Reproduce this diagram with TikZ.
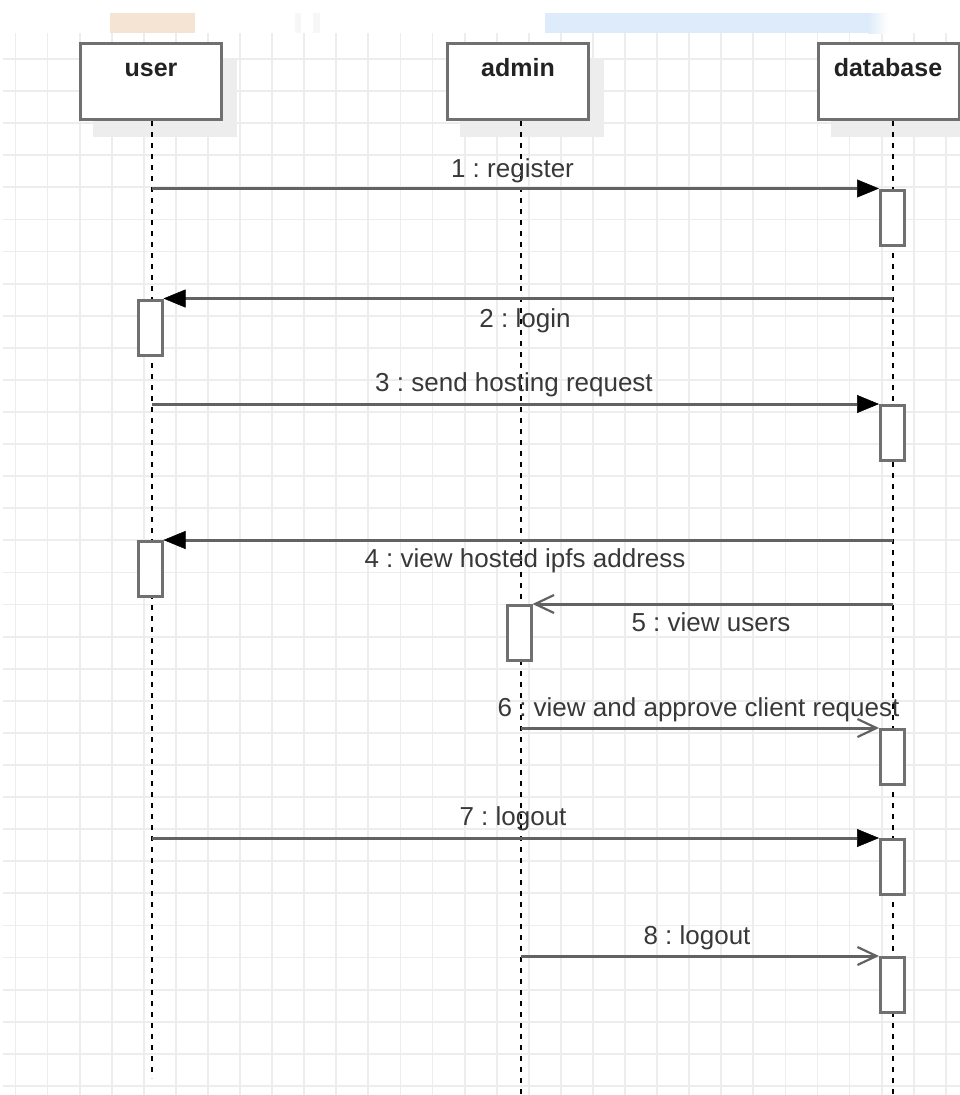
\documentclass[tikz,border=0pt]{standalone}
\usepackage{fontspec}
\setmainfont{Liberation Sans}
\usetikzlibrary{arrows.meta}
\definecolor{gridc}{HTML}{EDEDED}
\definecolor{boxc}{HTML}{707070}
\definecolor{linec}{HTML}{626262}
\definecolor{shadowc}{HTML}{EDEDED}
\definecolor{txtc}{HTML}{383838}
\definecolor{headc}{HTML}{222222}
\definecolor{bluec}{HTML}{DDEBFA}
\definecolor{tanc}{HTML}{F5E4D4}
\definecolor{faintc}{HTML}{F7F7F7}
\frenchspacing
\begin{document}
\begin{tikzpicture}[x=1pt,y=-1pt,
  gridline/.style={draw=gridc, line width=1.8pt},
  head/.style={draw=boxc, line width=3pt, fill=white, minimum width=141pt, minimum height=76pt, inner sep=0pt},
  shadowbox/.style={fill=shadowc, minimum width=144pt, minimum height=79pt, inner sep=0pt},
  headtxt/.style={font=\fontsize{25}{30}\selectfont\bfseries, text=headc, anchor=base, inner sep=0pt},
  act/.style={draw=boxc, line width=3pt, fill=white, minimum width=24pt, minimum height=55pt, inner sep=0pt},
  life/.style={line width=2pt, dash pattern=on 5pt off 6pt, black},
  msglbl/.style={font=\fontsize{26}{30}\selectfont, text=txtc, anchor=base, inner sep=0pt},
  sync/.style={draw=linec, line width=3pt, -{Triangle[length=22pt,width=18pt,line width=0.5pt,color=black,fill=black]}},
  async/.style={draw=linec, line width=3pt, -{Straight Barb[length=19pt,width=18pt,line width=2.2pt]}},
]
\useasboundingbox (0,0) rectangle (960,1095);
\clip (0,0) rectangle (960,1095);
% grid
\foreach \i in {0,...,29} \draw[gridline] (15.5+32.08*\i,33) -- (15.5+32.08*\i,1095);
\foreach \j in {0,...,32} \draw[gridline] (3,59+32.09*\j) -- (960,59+32.09*\j);
% top strip fragments
\fill[tanc] (110,13) rectangle (195,33);
\fill[faintc] (295,13) rectangle (301,33);
\fill[faintc] (313,13) rectangle (320,33);
\fill[bluec] (545,13) rectangle (868,33);
\shade[left color=bluec, right color=white] (868,13) rectangle (888,33);
% header shadows
\node[shadowbox] (us) at (165,97) {};
\node[shadowbox] (as) at (532,97) {};
\node[shadowbox] (ds) at (903,97) {};
% headers
\node[head] (user) at (151,81.5) {};
\node[head] (admin) at (518,81.5) {};
\node[head] (database) at (889,81.5) {};
\node[headtxt] (usert) at (151,76.5) {user};
\node[headtxt] (admint) at (518,76.5) {admin};
\node[headtxt] (databaset) at (888,76.5) {database};
% lifelines
\coordinate (ul) at (152,121);
\coordinate (al) at (521,121);
\coordinate (dl) at (893,121);
\coordinate (ub) at (152,1078);
\coordinate (ab) at (521,1095);
\coordinate (dbot) at (893,1095);
\draw[life] (ul) -- (ub);
\draw[life] (al) -- (ab);
\draw[life] (dl) -- (dbot);
% message labels
\node[msglbl] (l1) at (512.5,177) {1 : register};
\node[msglbl] (l2) at (525,327) {2 : login};
\node[msglbl] (l3) at (514,391.5) {3 : send hosting request};
\node[msglbl] (l4) at (525,567) {4 : view hosted ipfs address};
\node[msglbl] (l5) at (711,631.5) {5 : view users};
\node[msglbl] (l6) at (698.5,716) {6 : view and approve client request};
\node[msglbl] (l7) at (513,825) {7 : logout};
\node[msglbl] (l8) at (697,944) {8 : logout};
% activation boxes
\node[act] (a1) at (892.5,217.5) {};
\node[act] (a2) at (150,327.5) {};
\node[act] (a3) at (892.5,433) {};
\node[act] (a4) at (150,569) {};
\node[act] (a5) at (519,633) {};
\node[act] (a6) at (892.5,757) {};
\node[act] (a7) at (892.5,867) {};
\node[act] (a8) at (892.5,985) {};
% messages
\draw[sync] (ul |- a1.north) -- (a1.north west);
\draw[sync] (dl |- a2.north) -- (a2.north east);
\draw[sync] (ul |- a3.north) -- (a3.north west);
\draw[sync] (dl |- a4.north) -- (a4.north east);
\draw[async] (dl |- a5.north) -- (a5.north east);
\draw[async] (al |- a6.north) -- (a6.north west);
\draw[sync] (ul |- a7.north) -- (a7.north west);
\draw[async] (al |- a8.north) -- (a8.north west);
\end{tikzpicture}
\end{document}
